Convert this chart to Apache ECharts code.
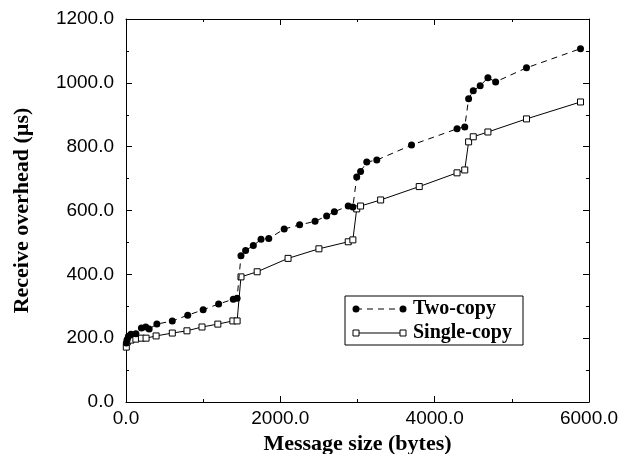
<!DOCTYPE html>
<html>
<head>
<meta charset="utf-8">
<script src="https://cdn.jsdelivr.net/npm/echarts@6/dist/echarts.min.js"></script>
<style>
html,body{margin:0;padding:0;background:#fff;}
#chart{width:621px;height:454px;}
</style>
</head>
<body>
<div id="chart"></div>
<script>
// Data (message size in bytes, receive overhead in microseconds)
const twoCopySizes = [4, 16, 32, 64, 128, 200, 256, 300, 400, 600, 800, 1000, 1200, 1390, 1440, 1490, 1550, 1650, 1750, 1850, 2050, 2250, 2450, 2600, 2700, 2880, 2940, 2990, 3040, 3120, 3250, 3700, 4290, 4390, 4440, 4500, 4590, 4690, 4790, 5190, 5890];
const twoCopyValues = [185, 196, 206, 212, 214, 232, 235, 229, 244, 254, 272, 289, 307, 322, 325, 458, 475, 490, 510, 512, 542, 555, 566, 583, 596, 614, 611, 705, 722, 752, 758, 805, 856, 862, 950, 975, 991, 1016, 1003, 1047, 1107];
const singleCopySizes = [4, 16, 64, 128, 200, 260, 390, 600, 790, 985, 1190, 1385, 1440, 1490, 1700, 2100, 2500, 2880, 2940, 2990, 3040, 3300, 3800, 4290, 4390, 4440, 4500, 4690, 5190, 5890];
const singleCopyValues = [172, 188, 194, 197, 200, 200, 207, 216, 223, 235, 244, 254, 254, 392, 408, 450, 480, 502, 508, 605, 614, 633, 675, 718, 727, 815, 831, 846, 887, 940];
const seriesNames = ['Two-copy', 'Single-copy'];
const xTitle = 'Message size (bytes)';
const yTitle = 'Receive overhead (\u00b5s)';

const pairs = (xs, ys) => xs.map((x, i) => [x, ys[i]]);

const chart = echarts.init(document.getElementById('chart'), null, {renderer: 'canvas'});

const labelFont = {fontFamily: 'Liberation Sans, Arial, sans-serif', fontSize: 19, color: '#000'};
const titleFont = {fontFamily: 'Liberation Serif, Times New Roman, serif', fontSize: 22, fontWeight: 'bold', color: '#000'};
const axisLine = {show: true, onZero: false, lineStyle: {color: '#000', width: 1}};
const tick = {show: true, inside: true, length: 6, lineStyle: {color: '#000', width: 1}};
const minor = {show: true, splitNumber: 2, length: 3, lineStyle: {color: '#000', width: 1}};

// legend geometry
const lg = {x: 345, y: 296, w: 178, h: 49};
const row1 = lg.y + 13, row2 = lg.y + 37;
const l0 = 356, l1 = 403;

chart.setOption({
  animation: false,
  grid: {left: 126, right: 32, top: 19, bottom: 52, containLabel: false, outerBoundsMode: 'none'},
  xAxis: [
    {type: 'value', min: 0, max: 6000, interval: 2000, position: 'bottom',
     axisLine: axisLine, axisTick: tick, minorTick: minor, splitLine: {show: false},
     axisLabel: Object.assign({margin: 7, formatter: v => v.toFixed(1)}, labelFont),
     name: xTitle, nameLocation: 'middle', nameGap: 31, nameTextStyle: titleFont},
    {type: 'value', min: 0, max: 6000, interval: 2000, position: 'top',
     axisLine: axisLine, axisTick: tick, minorTick: minor, splitLine: {show: false},
     axisLabel: {show: false}}
  ],
  yAxis: [
    {type: 'value', min: 0, max: 1200, interval: 200, position: 'left',
     axisLine: axisLine, axisTick: tick, minorTick: minor, splitLine: {show: false},
     axisLabel: Object.assign({margin: 12, formatter: v => v.toFixed(1)}, labelFont),
     name: yTitle, nameLocation: 'middle', nameGap: 93, nameTextStyle: titleFont},
    {type: 'value', min: 0, max: 1200, interval: 200, position: 'right',
     axisLine: axisLine, axisTick: tick, minorTick: minor, splitLine: {show: false},
     axisLabel: {show: false}}
  ],
  series: [
    {name: seriesNames[0], type: 'line', xAxisIndex: 0, yAxisIndex: 0,
     data: pairs(twoCopySizes, twoCopyValues),
     symbol: 'circle', symbolSize: 7, showAllSymbol: true,
     lineStyle: {color: '#000', width: 1, type: [6, 5]},
     itemStyle: {color: '#000', borderColor: '#000', borderWidth: 0}, z: 3},
    {name: seriesNames[1], type: 'line', xAxisIndex: 0, yAxisIndex: 0,
     data: pairs(singleCopySizes, singleCopyValues),
     symbol: 'rect', symbolSize: 6, showAllSymbol: true,
     lineStyle: {color: '#000', width: 1, type: 'solid'},
     itemStyle: {color: '#fff', borderColor: '#000', borderWidth: 1}, z: 2}
  ],
  graphic: [
    {type: 'rect', shape: {x: lg.x, y: lg.y, width: lg.w, height: lg.h},
     style: {fill: '#fff', stroke: '#000', lineWidth: 1}, z: 10},
    {type: 'line', shape: {x1: l0, y1: row1, x2: l1, y2: row1},
     style: {stroke: '#000', lineWidth: 1, lineDash: [6, 5]}, z: 11},
    {type: 'circle', shape: {cx: l0, cy: row1, r: 3.5}, style: {fill: '#000'}, z: 12},
    {type: 'circle', shape: {cx: l1, cy: row1, r: 3.5}, style: {fill: '#000'}, z: 12},
    {type: 'text', x: 413, y: row1, style: {text: seriesNames[0], verticalAlign: 'middle', align: 'left', fill: '#000', fontSize: 20, fontWeight: 'bold', fontFamily: 'Liberation Serif, Times New Roman, serif'}, z: 12},
    {type: 'line', shape: {x1: l0, y1: row2, x2: l1, y2: row2},
     style: {stroke: '#000', lineWidth: 1}, z: 11},
    {type: 'rect', shape: {x: l0 - 3, y: row2 - 3, width: 6, height: 6}, style: {fill: '#fff', stroke: '#000', lineWidth: 1}, z: 12},
    {type: 'rect', shape: {x: l1 - 3, y: row2 - 3, width: 6, height: 6}, style: {fill: '#fff', stroke: '#000', lineWidth: 1}, z: 12},
    {type: 'text', x: 413, y: row2, style: {text: seriesNames[1], verticalAlign: 'middle', align: 'left', fill: '#000', fontSize: 20, fontWeight: 'bold', fontFamily: 'Liberation Serif, Times New Roman, serif'}, z: 12}
  ]
});
</script>
</body>
</html>
